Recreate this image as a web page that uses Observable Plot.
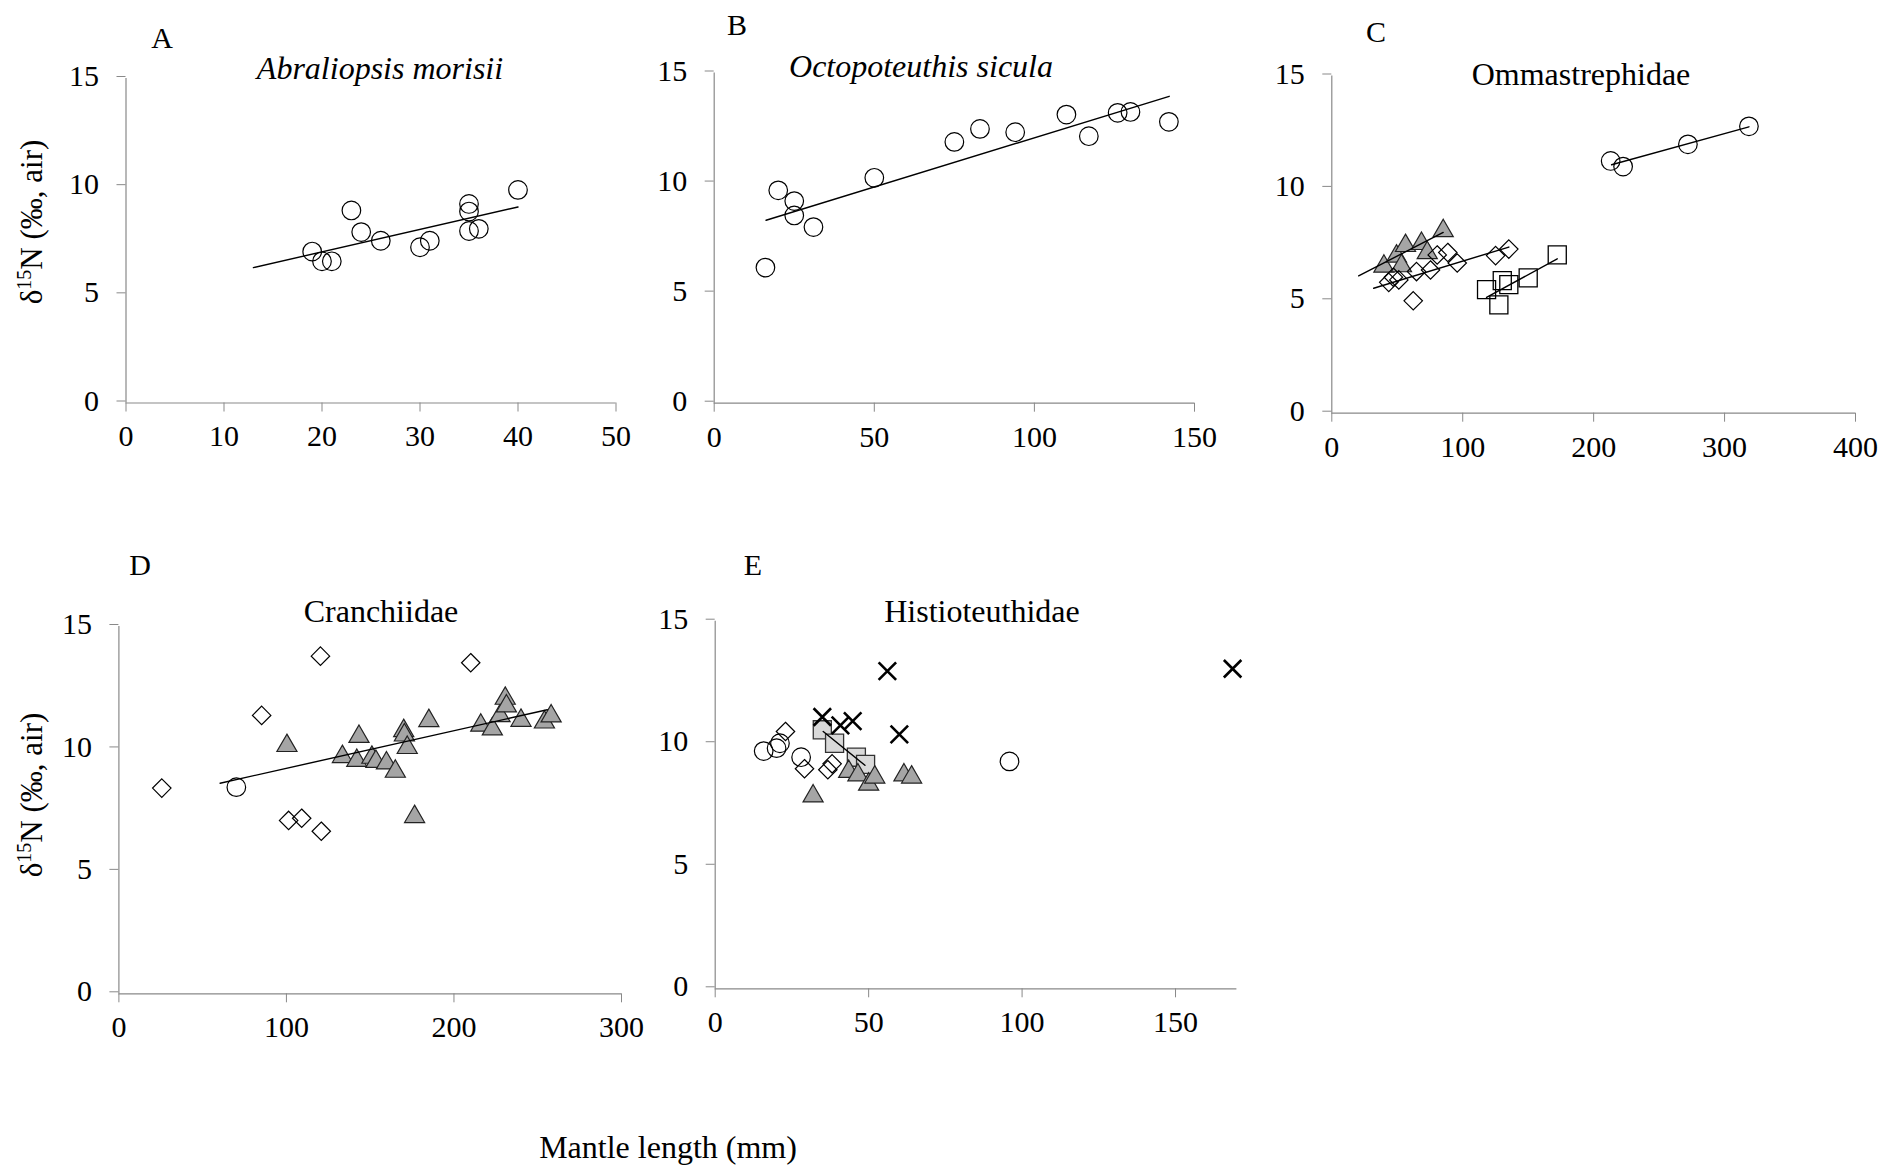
<!DOCTYPE html>
<html>
<head>
<meta charset="utf-8">
<script src="https://cdn.jsdelivr.net/npm/d3@7"></script>
<script src="https://cdn.jsdelivr.net/npm/@observablehq/plot@0.6"></script>
<style>
  body { margin: 0; background: #fff; }
  #page { position: relative; width: 1885px; height: 1166px; background: #fff; overflow: hidden;
          font-family: "Liberation Serif", "Times New Roman", serif; }
  .panel { position: absolute; }
  .panel svg { overflow: visible; max-width: none; background: transparent; }
  #overlay { position: absolute; left: 0; top: 0; pointer-events: none; }
</style>
</head>
<body>
<div id="page"></div>
<script>
// ---------------- DATA ----------------
// Panel A – Abraliopsis morisii
const aLength = [19, 20, 21, 23, 24, 26, 30, 31, 35, 35, 35, 36, 40];
const aN15    = [7.0, 6.55, 6.55, 8.9, 7.9, 7.5, 7.2, 7.5, 9.2, 8.85, 7.95, 8.05, 9.85];
const aFitLength = [13, 40];
const aFitN15    = [6.26, 9.06];

// Panel B – Octopoteuthis sicula
const bLength = [16, 20, 25, 25, 31, 50, 75, 83, 94, 110, 117, 126, 130, 142];
const bN15    = [6.16, 9.67, 9.18, 8.53, 8.0, 10.24, 11.87, 12.46, 12.31, 13.11, 12.13, 13.19, 13.23, 12.78];
const bFitLength = [16.2, 142.1];
const bFitN15    = [8.31, 13.94];

// Panel C – Ommastrephidae (four groups)
const cCircleLength = [213, 222.5, 272, 318.6];
const cCircleN15    = [11.22, 10.97, 11.96, 12.76];
const cCircleFitLength = [213.7, 318.6];
const cCircleFitN15    = [11.05, 12.74];
const cTriangleLength = [39.8, 49.4, 56.3, 53.2, 68.5, 72.9, 85.1];
const cTriangleN15    = [6.66, 7.11, 7.58, 6.68, 7.67, 7.26, 8.24];
const cTriangleFitLength = [20.5, 85.1];
const cTriangleFitN15    = [6.11, 8.04];
const cDiamondLength = [43.5, 47, 51.2, 62.2, 64.7, 75.4, 80.5, 88.6, 95.8, 125.1, 135.2];
const cDiamondN15    = [5.82, 6.05, 5.93, 5.0, 6.30, 6.37, 7.04, 7.15, 6.68, 7.01, 7.30];
const cDiamondFitLength = [32, 135.2];
const cDiamondFitN15    = [5.56, 7.39];
const cSquareLength = [118.2, 127.6, 130.2, 135.2, 150, 172.2];
const cSquareN15    = [5.50, 4.82, 5.9, 5.72, 6.02, 7.04];
const cSquareFitLength = [118.2, 172.2];
const cSquareFitN15    = [5.15, 6.87];

// Panel D – Cranchiidae
const dDiamondLength = [25.6, 85.2, 101.3, 109.1, 120.3, 120.8, 210];
const dDiamondN15    = [8.4, 11.37, 7.08, 7.17, 13.79, 6.64, 13.52];
const dCircleLength = [70.1];
const dCircleN15    = [8.44];
const dTriangleLength = [100.3, 133.4, 142, 143.3, 151, 153.4, 159.7, 165, 170, 170.4, 172.1, 176.5,
                         185, 216, 222.9, 227.5, 230.6, 231.3, 240, 254, 258];
const dTriangleN15    = [10.25, 9.8, 9.64, 10.62, 9.77, 9.6, 9.54, 9.2, 10.86, 10.68, 10.17, 7.35,
                         11.27, 11.08, 10.93, 11.47, 12.18, 11.87, 11.28, 11.21, 11.46];
const dFitLength = [60.4, 255.7];
const dFitN15    = [8.6, 11.6];

// Panel E – Histioteuthidae
const eCircleLength = [15.8, 20.0, 21.1, 28.0, 95.9];
const eCircleN15    = [9.70, 9.82, 10.02, 9.45, 9.28];
const eDiamondLength = [22.9, 29.1, 36.7, 38.1];
const eDiamondN15    = [10.5, 8.98, 8.94, 9.18];
const eSquareLength = [34.9, 38.9, 46.0, 49.0];
const eSquareN15    = [10.57, 10.02, 9.45, 9.16];
const eSquareFitLength = [35.2, 48.8];
const eSquareFitN15    = [10.5, 9.12];
const eTriangleLength = [31.9, 43.5, 46.5, 50.0, 52.0, 61.5, 64.0];
const eTriangleN15    = [7.98, 8.98, 8.84, 8.46, 8.75, 8.84, 8.75];
const eCrossLength = [34.9, 40.8, 44.8, 56.1, 60.0, 168.6];
const eCrossN15    = [11.09, 10.75, 10.92, 12.96, 10.38, 13.06];

// Axis ticks
const yTicks = [0, 5, 10, 15];
const aXTicks = [0, 10, 20, 30, 40, 50];
const bXTicks = [0, 50, 100, 150];
const cXTicks = [0, 100, 200, 300, 400];
const dXTicks = [0, 100, 200, 300];
const eXTicks = [0, 50, 100, 150];

// Texts
const panelLetters = ["A", "B", "C", "D", "E"];
const panelTitles = ["Abraliopsis morisii", "Octopoteuthis sicula", "Ommastrephidae", "Cranchiidae", "Histioteuthidae"];
const xAxisTitle = "Mantle length (mm)";

// ---------------- HELPERS ----------------
const rows = (xs, ys) => xs.map((x, i) => ({x, y: ys[i]}));
const AXIS = "#898989";
const FONT = "Liberation Serif, Times New Roman, serif";
const TRI_FILL = "#a5a5a5";
const SQ_FILL = "#d9d9d9";

const circles  = (d) => Plot.dot(d, {x: "x", y: "y", symbol: "circle", r: 9.3, stroke: "black", strokeWidth: 1.2, fill: "none"});
const diamonds = (d) => Plot.dot(d, {x: "x", y: "y", symbol: "diamond2", r: 8.3, stroke: "black", strokeWidth: 1.2, fill: "none"});
const squares  = (d, fill = "none") => Plot.dot(d, {x: "x", y: "y", symbol: "square2", r: 11.5, stroke: fill === "none" ? "black" : "#333", strokeWidth: 1.3, fill});
const triangles = (d) => Plot.dot(d, {x: "x", y: "y", symbol: "triangle2", r: 9.6, dy: 2.9, stroke: "#222", strokeWidth: 1.2, fill: TRI_FILL});
const crosses  = (d) => Plot.dot(d, {x: "x", y: "y", symbol: "times", r: 8, stroke: "black", strokeWidth: 2.6});
const fit = (d) => Plot.line(d, {x: "x", y: "y", stroke: "black", strokeWidth: 1.4});

const page = document.getElementById("page");

function drawPanel({box, frame, xDomain, xTicks, marks}) {
  const [left, top, width, height] = box;
  const [fx0, fx1, fy0, fy1] = frame;
  const chart = Plot.plot({
    width, height,
    marginLeft: fx0 - left, marginRight: left + width - fx1,
    marginTop: fy0 - top, marginBottom: top + height - fy1,
    x: {domain: xDomain},
    y: {domain: [0, 15]},
    style: {fontFamily: FONT, fontSize: "30px", background: "transparent", overflow: "visible", color: "black"},
    marks: [
      Plot.ruleY([0], {stroke: AXIS, strokeWidth: 1.2}),
      Plot.ruleX([0], {stroke: AXIS, strokeWidth: 1.2}),
      Plot.axisX({ticks: xTicks, tickSize: 9, tickPadding: 13, stroke: AXIS, fill: "black",
                  fontSize: 30, fontFamily: FONT, label: null, tickFormat: (d) => String(d)}),
      Plot.axisY({ticks: yTicks, tickSize: 9, tickPadding: 18, dy: -2, stroke: AXIS, fill: "black",
                  fontSize: 30, fontFamily: FONT, label: null, tickFormat: (d) => String(d)}),
      ...marks
    ]
  });
  const wrap = document.createElement("div");
  wrap.className = "panel";
  wrap.style.left = left + "px";
  wrap.style.top = top + "px";
  wrap.appendChild(chart);
  page.appendChild(wrap);
}

// Panel A
drawPanel({
  box: [0, 0, 640, 480], frame: [125.5, 615.5, 78, 402.5],
  xDomain: [0, 50], xTicks: aXTicks,
  marks: [circles(rows(aLength, aN15)), fit(rows(aFitLength, aFitN15))]
});
// Panel B
drawPanel({
  box: [640, 0, 620, 480], frame: [713.7, 1194, 72.5, 402.7],
  xDomain: [0, 150], xTicks: bXTicks,
  marks: [circles(rows(bLength, bN15)), fit(rows(bFitLength, bFitN15))]
});
// Panel C
drawPanel({
  box: [1260, 0, 625, 480], frame: [1331.3, 1855, 75.5, 412.7],
  xDomain: [0, 400], xTicks: cXTicks,
  marks: [
    squares(rows(cSquareLength, cSquareN15)),
    triangles(rows(cTriangleLength, cTriangleN15)),
    diamonds(rows(cDiamondLength, cDiamondN15)),
    circles(rows(cCircleLength, cCircleN15)),
    fit(rows(cSquareFitLength, cSquareFitN15)),
    fit(rows(cTriangleFitLength, cTriangleFitN15)),
    fit(rows(cDiamondFitLength, cDiamondFitN15)),
    fit(rows(cCircleFitLength, cCircleFitN15))
  ]
});
// Panel D
drawPanel({
  box: [0, 480, 655, 620], frame: [118.4, 621, 626, 993.3],
  xDomain: [0, 300], xTicks: dXTicks,
  marks: [
    diamonds(rows(dDiamondLength, dDiamondN15)),
    circles(rows(dCircleLength, dCircleN15)),
    triangles(rows(dTriangleLength, dTriangleN15)),
    fit(rows(dFitLength, dFitN15))
  ]
});
// Panel E
drawPanel({
  box: [655, 480, 605, 620], frame: [714.7, 1236.4, 620.7, 988.3],
  xDomain: [0, 170], xTicks: eXTicks,
  marks: [
    circles(rows(eCircleLength, eCircleN15)),
    diamonds(rows(eDiamondLength, eDiamondN15)),
    squares(rows(eSquareLength, eSquareN15), SQ_FILL),
    triangles(rows(eTriangleLength, eTriangleN15)),
    fit(rows(eSquareFitLength, eSquareFitN15)),
    crosses(rows(eCrossLength, eCrossN15))
  ]
});

// ---------------- TEXT OVERLAY ----------------
const overlay = d3.select(page).append("svg").attr("id", "overlay")
  .attr("width", 1885).attr("height", 1166)
  .style("font-family", FONT).style("fill", "black");

const letterPos = [[162, 48], [737, 35], [1376, 42], [140, 575], [753, 575]];
const titlePos = [[380, 79], [921, 77], [1581, 85], [381, 622], [982, 622]];
const titleItalic = [true, true, false, false, false];

panelLetters.forEach((t, i) => {
  overlay.append("text").attr("x", letterPos[i][0]).attr("y", letterPos[i][1])
    .attr("text-anchor", "middle").style("font-size", "30px").text(t);
});
panelTitles.forEach((t, i) => {
  overlay.append("text").attr("x", titlePos[i][0]).attr("y", titlePos[i][1])
    .attr("text-anchor", "middle").style("font-size", "32px")
    .style("font-style", titleItalic[i] ? "italic" : "normal").text(t);
});

function yLabel(cx, cy) {
  const t = overlay.append("text")
    .attr("transform", `translate(${cx},${cy}) rotate(-90)`)
    .attr("text-anchor", "middle").attr("dy", "0.35em").style("font-size", "31px");
  t.append("tspan").text("δ");
  t.append("tspan").attr("baseline-shift", "super").style("font-size", "20px").text("15");
  t.append("tspan").text("N (‰, air)");
}
yLabel(31, 222);
yLabel(31, 795);

overlay.append("text").attr("x", 668).attr("y", 1158).attr("text-anchor", "middle")
  .style("font-size", "32px").text(xAxisTitle);
</script>
</body>
</html>
